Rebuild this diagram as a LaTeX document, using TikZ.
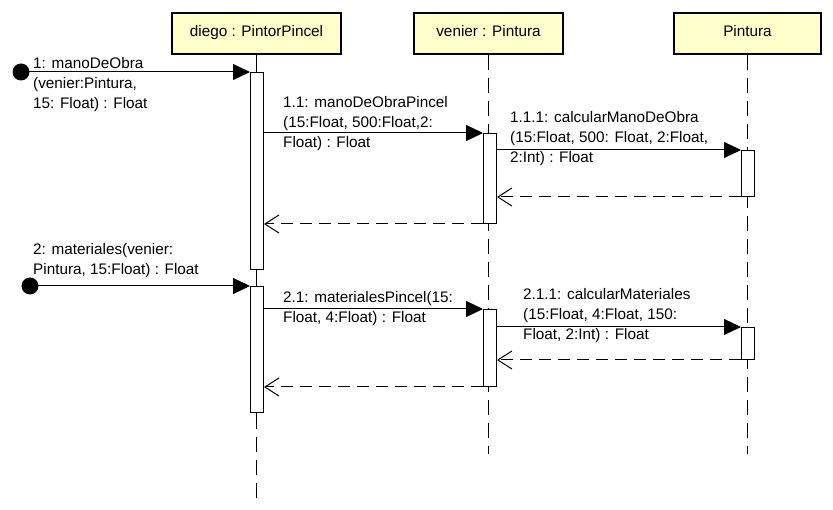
\documentclass[tikz,border=0pt]{standalone}
\usepackage{fontspec}
\setmainfont{Liberation Sans}
\usetikzlibrary{arrows.meta}
\definecolor{hdrfill}{RGB}{255,255,204}
\tikzset{
 hdr/.style={draw, line width=2.5pt, fill=hdrfill, minimum height=41pt, inner sep=0pt, text height=11pt, text depth=5pt, font=\fontsize{15.3}{20}\selectfont},
 act/.style={draw, line width=1pt, fill=white, minimum width=13pt, inner sep=0pt, anchor=north west},
 lifeline/.style={line width=1.2pt, dash pattern=on 15pt off 8pt},
 solidlife/.style={line width=1.2pt},
 call/.style={line width=1pt, -{Triangle[length=17pt,width=16pt]}},
 ret/.style={line width=1pt, dash pattern=on 12pt off 7pt, -{Straight Barb[length=14pt,width=18pt,line width=1pt]}},
 dot/.style={circle, fill=black, minimum size=17pt, inner sep=0pt},
 lbl/.style={anchor=base west, inner sep=0pt, font=\fontsize{15.3}{20}\selectfont},
}
\begin{document}
\begin{tikzpicture}[x=1pt,y=-1pt]
\useasboundingbox (0,0) rectangle (833,510);
% headers
\node[hdr, minimum width=169pt] (diego) at (256.5,33.5) {diego : PintorPincel};
\node[hdr, minimum width=149pt] (venier) at (488.5,33.5) {venier : Pintura};
\node[hdr, minimum width=147pt] (pintura) at (747.5,33.5) {Pintura};
% lifeline points
\path (diego.south) ++(0,359) coordinate (diegoMid);
\path (diego.south) ++(0,443) coordinate (diegoEnd);
\path (venier.south) ++(0,399) coordinate (venierEnd);
\path (pintura.south) ++(0,399) coordinate (pinturaEnd);
% lifelines
\draw[solidlife] (diego.south) -- (diegoMid);
\draw[lifeline] (diegoMid) -- (diegoEnd);
\draw[lifeline] (venier.south) -- (venierEnd);
\draw[lifeline] (pintura.south) -- (pinturaEnd);
% activations
\node[act, minimum height=197pt] (actD1) at (250,72) {};
\node[act, minimum height=126pt] (actD2) at (250,286) {};
\node[act, minimum height=90pt] (actV1) at (483,133) {};
\node[act, minimum height=77pt] (actV2) at (483,309) {};
\node[act, minimum height=46pt] (actP1) at (741,150) {};
\node[act, minimum height=32pt] (actP2) at (741,327) {};
% start dots
\node[dot] (dot1) at (21,72) {};
\node[dot] (dot2) at (30,286) {};
% messages
\draw[call] (dot1.center) -- (actD1.north west);
\draw[call] (actV1.north west -| actD1.east) -- (actV1.north west);
\draw[call] (actP1.north west -| actV1.east) -- (actP1.north west);
\draw[ret] (actP1.south west) -- (actP1.south west -| actV1.east);
\draw[ret] (actV1.south west) -- (actV1.south west -| actD1.east);
\draw[call] (dot2.center) -- (actD2.north west);
\draw[call] (actV2.north west -| actD2.east) -- (actV2.north west);
\draw[call] (actP2.north west -| actV2.east) -- (actP2.north west);
\draw[ret] (actP2.south west) -- (actP2.south west -| actV2.east);
\draw[ret] (actV2.south west) -- (actV2.south west -| actD2.east);
% labels
\node[lbl] (l1) at (33,69) {\begin{tabular}[t]{@{}l@{}}1: manoDeObra\\(venier:Pintura,\\15: Float) : Float\end{tabular}};
\node[lbl] (l11) at (283,108) {\begin{tabular}[t]{@{}l@{}}1.1: manoDeObraPincel\\(15:Float, 500:Float,2:\\Float) : Float\end{tabular}};
\node[lbl] (l111) at (510,123) {\begin{tabular}[t]{@{}l@{}}1.1.1: calcularManoDeObra\\(15:Float, 500: Float, 2:Float,\\2:Int) : Float\end{tabular}};
\node[lbl] (l2) at (33,255) {\begin{tabular}[t]{@{}l@{}}2: materiales(venier:\\Pintura, 15:Float) : Float\end{tabular}};
\node[lbl] (l21) at (283,303) {\begin{tabular}[t]{@{}l@{}}2.1: materialesPincel(15:\\Float, 4:Float) : Float\end{tabular}};
\node[lbl] (l211) at (523,300) {\begin{tabular}[t]{@{}l@{}}2.1.1: calcularMateriales\\(15:Float, 4:Float, 150:\\Float, 2:Int) : Float\end{tabular}};
\end{tikzpicture}
\end{document}
